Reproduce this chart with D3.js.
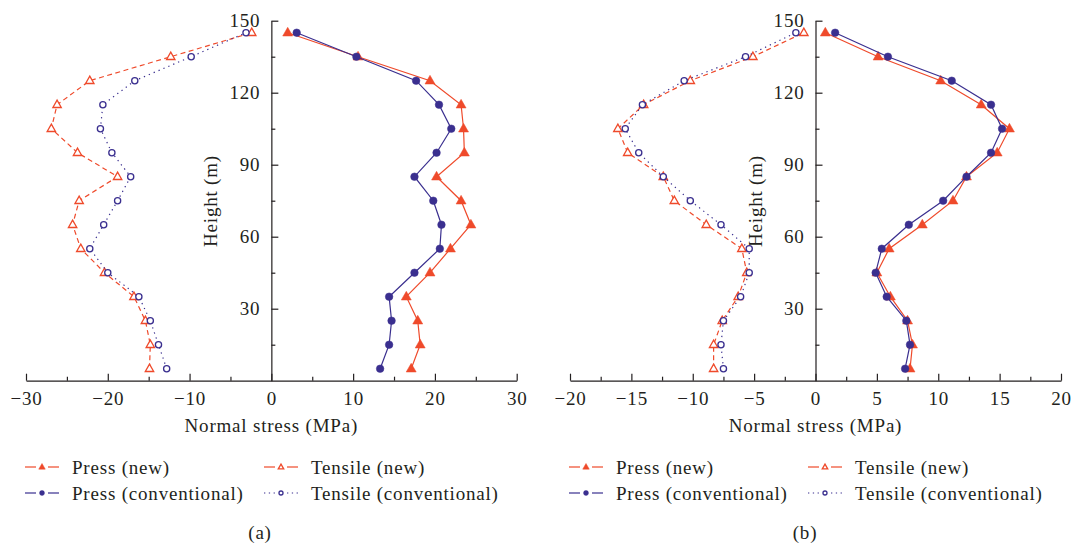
<!DOCTYPE html>
<html>
<head>
<meta charset="utf-8">
<script src="https://cdn.jsdelivr.net/npm/d3@7"></script>
<style>
  body { margin: 0; background: #fff; }
  svg text { font-family: "Liberation Serif", "DejaVu Serif", serif; fill: #231f20; letter-spacing: 0.8px; }
</style>
</head>
<body>
<svg id="chart" width="1074" height="547"></svg>
<script>
// Heights of the measuring sections (m), bottom to top
const heights = [5, 15, 25, 35, 45, 55, 65, 75, 85, 95, 105, 115, 125, 135, 145];

// Panel (a): normal stress (MPa)
const pressNewA     = [17.1, 18.2, 17.9, 16.5, 19.4, 21.9, 24.4, 23.2, 20.2, 23.6, 23.5, 23.2, 19.4, 10.6, 2.0];
const pressConvA    = [13.3, 14.4, 14.7, 14.4, 17.5, 20.6, 20.8, 19.8, 17.5, 20.2, 22.0, 20.5, 17.7, 10.4, 3.1];
const tensileNewA   = [-14.9, -14.8, -15.4, -16.8, -20.4, -23.3, -24.3, -23.5, -18.8, -23.7, -26.9, -26.2, -22.2, -12.3, -2.4];
const tensileConvA  = [-12.8, -13.8, -14.8, -16.2, -20.0, -22.2, -20.5, -18.8, -17.2, -19.5, -20.9, -20.6, -16.7, -9.8, -3.1];

// Panel (b): normal stress (MPa)
const pressNewB     = [7.7, 7.9, 7.5, 6.1, 5.0, 6.0, 8.7, 11.2, 12.3, 14.8, 15.8, 13.5, 10.2, 5.1, 0.8];
const pressConvB    = [7.3, 7.7, 7.4, 5.8, 4.9, 5.4, 7.6, 10.4, 12.3, 14.3, 15.2, 14.3, 11.1, 5.9, 1.6];
const tensileNewB   = [-8.3, -8.3, -7.6, -6.3, -5.6, -6.0, -8.9, -11.5, -12.4, -15.3, -16.1, -14.0, -10.2, -5.1, -0.95];
const tensileConvB  = [-7.5, -7.7, -7.5, -6.1, -5.4, -5.4, -7.7, -10.2, -12.4, -14.4, -15.5, -14.1, -10.7, -5.7, -1.6];

// Axis ticks
const xTicksA = [-30, -20, -10, 0, 10, 20, 30];
const xMinorA = [-25, -15, -5, 5, 15, 25];
const xTicksB = [-20, -15, -10, -5, 0, 5, 10, 15, 20];
const xMinorB = [-17.5, -12.5, -7.5, -2.5, 2.5, 7.5, 12.5, 17.5];
const yTicks  = [30, 60, 90, 120, 150];
const yMinor  = [15, 45, 75, 105, 135];

const seriesNames = ["Press (new)", "Tensile (new)", "Press (conventional)", "Tensile (conventional)"];
const xTitle = "Normal stress (MPa)";
const yTitle = "Height (m)";

const RED = "#ef4a2b";
const BLUE = "#3a2f8f";
const FONT = "19px";

const styles = {
  "Press (new)":            { color: RED,  dash: null,    marker: "triFilled" },
  "Tensile (new)":          { color: RED,  dash: "5,3.5", marker: "triOpen" },
  "Press (conventional)":   { color: BLUE, dash: null,    marker: "dotFilled" },
  "Tensile (conventional)": { color: BLUE, dash: "1.3,4", marker: "dotOpen" }
};

const svg = d3.select("#chart");
const y = d3.scaleLinear().domain([0, 150]).range([380.7, 20.7]);

function drawMarker(g, type, cx, cy, color, k) {
  k = k || 1;
  if (type === "triFilled" || type === "triOpen") {
    const s = (type === "triFilled" ? 10 : 8.4) * k;
    const h = s * 0.87;
    const pts = [[cx, cy - h * 0.62], [cx - s / 2, cy + h * 0.38], [cx + s / 2, cy + h * 0.38]];
    g.append("path")
      .attr("d", d3.line()(pts) + "Z")
      .attr("fill", type === "triFilled" ? color : "#fff")
      .attr("stroke", color)
      .attr("stroke-width", type === "triFilled" ? 0.5 : 1.3);
  } else {
    g.append("circle")
      .attr("cx", cx).attr("cy", cy)
      .attr("r", (type === "dotFilled" ? 3.8 : 3.1) * k)
      .attr("fill", type === "dotFilled" ? color : "#fff")
      .attr("stroke", color)
      .attr("stroke-width", type === "dotFilled" ? 0.5 : 1.3);
  }
}

function styleAxis(a) {
  a.selectAll("text").style("font-size", FONT).style("font-family", "Liberation Serif");
  a.selectAll("line,path").attr("stroke", "#231f20").attr("stroke-width", 1.2);
}

function panel(cfg) {
  const x = d3.scaleLinear().domain(cfg.domain).range(cfg.range);
  const g = svg.append("g");
  const x0 = x(0);

  // x axis (ticks pointing up into the plot)
  g.append("g")
    .attr("transform", `translate(0,${y(0)})`)
    .call(d3.axisBottom(x).tickValues(cfg.minor).tickSizeInner(-4).tickSizeOuter(0).tickFormat(""))
    .call(a => a.select(".domain").remove())
    .call(styleAxis);
  g.append("g")
    .attr("transform", `translate(0,${y(0)})`)
    .call(d3.axisBottom(x).tickValues(cfg.ticks).tickSizeInner(-7).tickSizeOuter(0).tickPadding(11))
    .call(styleAxis);

  // y axis sits at zero stress, ticks pointing right
  g.append("g")
    .attr("transform", `translate(${x0},0)`)
    .call(d3.axisLeft(y).tickValues(yMinor).tickSizeInner(-4).tickSizeOuter(0).tickFormat(""))
    .call(a => a.select(".domain").remove())
    .call(styleAxis);
  g.append("g")
    .attr("transform", `translate(${x0},0)`)
    .call(d3.axisLeft(y).tickValues(yTicks).tickSizeInner(-7).tickSizeOuter(0).tickPadding(11))
    .call(styleAxis);

  // axis titles
  g.append("text")
    .attr("x", (cfg.range[0] + cfg.range[1]) / 2).attr("y", 432)
    .attr("text-anchor", "middle").style("font-size", FONT)
    .text(xTitle);
  g.append("text")
    .attr("transform", `translate(${x0 - 54},${201}) rotate(-90)`)
    .attr("text-anchor", "middle").style("font-size", FONT)
    .text(yTitle);

  // series
  const line = d3.line().x(d => x(d[0])).y(d => y(d[1]));
  const draw = [["Tensile (new)", cfg.tensileNew], ["Tensile (conventional)", cfg.tensileConv],
                ["Press (new)", cfg.pressNew], ["Press (conventional)", cfg.pressConv]];
  draw.forEach(([name, vals]) => {
    const st = styles[name];
    const pts = vals.map((v, i) => [v, heights[i]]);
    g.append("path")
      .attr("d", line(pts))
      .attr("fill", "none")
      .attr("stroke", st.color)
      .attr("stroke-width", 1.2)
      .attr("stroke-dasharray", st.dash);
    const mg = g.append("g");
    pts.forEach(p => drawMarker(mg, st.marker, x(p[0]), y(p[1]), st.color));
  });

  // legend
  const left = cfg.range[0];
  const cols = [left - 1, left + 238];
  const rows = [467, 493];
  seriesNames.forEach((name, i) => {
    const st = styles[name];
    const lx = cols[i % 2], ly = rows[Math.floor(i / 2)];
    const mx = lx + 17;
    [[lx, mx - 6], [mx + 6, lx + 34]].forEach(([a, b]) => {
      g.append("line")
        .attr("x1", a).attr("x2", b).attr("y1", ly).attr("y2", ly)
        .attr("stroke", st.color).attr("stroke-width", 1.2)
        .attr("stroke-dasharray", st.dash === "1.3,4" ? "1.3,3.5" : null);
    });
    drawMarker(g, st.marker, mx, ly, st.color, 0.65);
    g.append("text")
      .attr("x", lx + 47).attr("y", ly + 6.5)
      .style("font-size", FONT)
      .text(name);
  });

  // panel label
  g.append("text")
    .attr("x", cfg.labelX).attr("y", 539)
    .attr("text-anchor", "middle").style("font-size", FONT)
    .text(cfg.label);
}

panel({
  domain: [-30, 30], range: [26, 516.7], ticks: xTicksA, minor: xMinorA,
  pressNew: pressNewA, pressConv: pressConvA, tensileNew: tensileNewA, tensileConv: tensileConvA,
  label: "(a)", labelX: 260
});
panel({
  domain: [-20, 20], range: [570, 1061], ticks: xTicksB, minor: xMinorB,
  pressNew: pressNewB, pressConv: pressConvB, tensileNew: tensileNewB, tensileConv: tensileConvB,
  label: "(b)", labelX: 805
});
</script>
</body>
</html>
